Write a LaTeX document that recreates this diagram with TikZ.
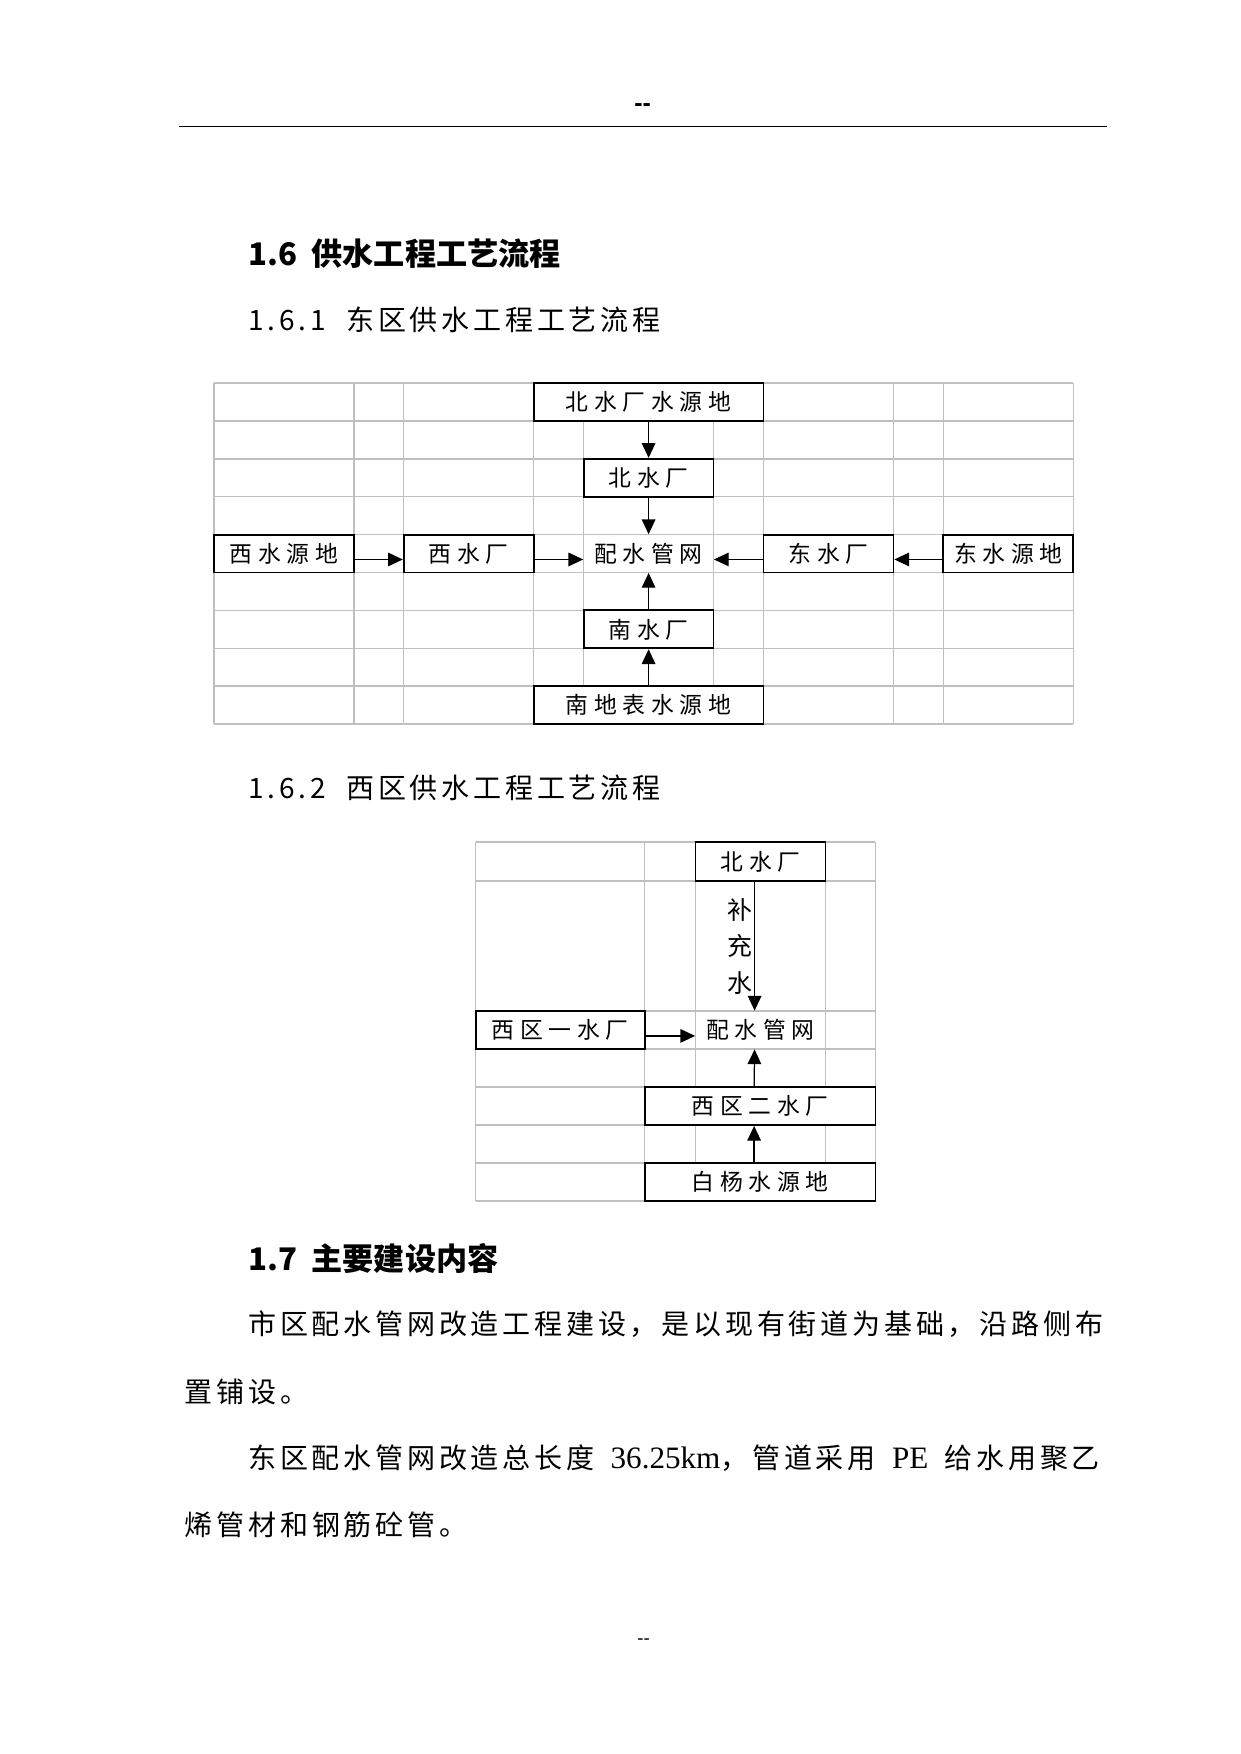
\documentclass[tikz,border=0pt]{standalone}
\usepackage{fontspec}
\setmainfont{Liberation Serif}
\setsansfont{Liberation Sans}
\newfontfamily\cjk[Scale=0.9,LetterSpace=13.5]{Noto Sans CJK SC}
\newfontfamily\hei{Noto Sans CJK SC}
\newfontfamily\cellfont[LetterSpace=25]{Noto Sans CJK SC}
\newcommand{\bodysize}{\fontsize{15pt}{18pt}\selectfont}
\newcommand{\cellsize}{\fontsize{11pt}{13pt}\selectfont}
\usetikzlibrary{arrows.meta}

\begin{document}
\begin{tikzpicture}[x=0.16922mm, y=-0.16933mm,
  gridln/.style={black!25, line width=0.7pt},
  box/.style={rectangle, draw, line width=0.9pt, fill=white, inner sep=0pt,
              minimum width=22mm, minimum height=6.42mm,
              font=\cellfont\cellsize},
  cell/.style={rectangle, inner sep=0pt, minimum width=22mm,
               minimum height=6.42mm, font=\cellfont\cellsize},
  flow/.style={-{Triangle[length=2.5mm, width=2.3mm]}, line width=0.6pt},
  txt/.style={anchor=west, inner sep=0pt, font=\bodysize}
]
\useasboundingbox (0,0) rectangle (1241,1754);
% page header and footer
\node[font=\sffamily\bfseries\fontsize{12pt}{14pt}\selectfont] (hdr)
  at (643,108) {-\kern0pt-};
\draw[line width=0.6pt] (179,126.5) -- (1108,126.5);
\node[font=\sffamily\fontsize{9pt}{11pt}\selectfont] (ftr)
  at (644,1642) {-\kern0pt-};
% headings
\node[txt, font=\hei\bfseries\fontsize{15pt}{18pt}\selectfont] (h16)
  at (248,254) {1.6\hspace{7pt}供水工程工艺流程};
\node[txt] (h161) at (248,320) {\cjk 1.6.1\hspace{10pt}东区供水工程工艺流程};
\node[txt] (h162) at (248,788) {\cjk 1.6.2\hspace{10pt}西区供水工程工艺流程};
\node[txt, font=\hei\bfseries\fontsize{15pt}{18pt}\selectfont] (h17)
  at (248,1258) {1.7\hspace{7pt}主要建设内容};
% east district grid
\foreach \x in {214,354,404,534,584,714,764,894,944,1074}
  \draw[gridln] (\x,383) -- (\x,724.1);
\foreach \i in {0,...,9}
  \draw[gridln] (214,{383+37.9*\i}) -- (1074,{383+37.9*\i});
% east district plants and sources
\node[box, minimum width=38.92mm] (srcN) at (649,401.95) {北水厂水源地};
\node[box] (plantN) at (649,477.75) {北水厂};
\node[cell] (net1) at (649,553.55) {配水管网};
\node[box, minimum width=23.69mm] (srcW) at (284,553.55) {西水源地};
\node[box] (plantW) at (469,553.55) {西水厂};
\node[box] (plantE) at (829,553.55) {东水厂};
\node[box] (srcE) at (1009,553.55) {东水源地};
\node[box] (plantS) at (649,629.35) {南水厂};
\node[box, minimum width=38.92mm] (srcS) at (649,705.15) {南地表水源地};
% east district flows
\draw[flow] (srcN) -- (plantN);
\draw[flow] (plantN) -- (net1);
\draw[flow] ([yshift=-1mm]srcW.east) -- ([yshift=-1mm]plantW.west);
\draw[flow] ([yshift=-1mm]plantW.east) -- ([yshift=-1mm]net1.west);
\draw[flow] ([yshift=-1mm]plantE.west) -- ([yshift=-1mm]net1.east);
\draw[flow] ([yshift=-1mm]srcE.west) -- ([yshift=-1mm]plantE.east);
\draw[flow] (plantS) -- (net1);
\draw[flow] (srcS) -- (plantS);
% west district grid
\foreach \x in {476,645,696,826,876}
  \draw[gridln] (\x,842) -- (\x,1201);
\foreach \y in {842,881,1011,1049,1087,1125,1163,1201}
  \draw[gridln] (476,\y) -- (876,\y);
% west district plants and sources
\node[box, minimum height=6.6mm] (plantN2) at (761,861.5) {北水厂};
\node[box, minimum width=28.6mm] (plant1) at (560.5,1030) {西区一水厂};
\node[cell] (net2) at (761,1030) {配水管网};
\node[box, minimum width=39.09mm] (plant2) at (760.5,1106) {西区二水厂};
\node[box, minimum width=39.09mm] (src2) at (760.5,1182) {白杨水源地};
% west district flows
\draw[flow] ([xshift=-1mm]plantN2.south) -- ([xshift=-1mm]net2.north)
  node[midway, left, inner sep=1pt, align=center,
       font=\hei\fontsize{12pt}{17.5pt}\selectfont] (lblfill) {补\\充\\水};
\draw[flow] ([yshift=-1mm]plant1.east) -- ([yshift=-1mm]net2.west);
\draw[flow] ([xshift=-1mm]plant2.north) -- ([xshift=-1mm]net2.south);
\draw[flow] ([xshift=-1mm]src2.north) -- ([xshift=-1mm]plant2.south);
% body text
\node[txt] (par1a) at (248,1324)
  {\cjk 市区配水管网改造工程建设，是以现有街道为基础，沿路侧布};
\node[txt] (par1b) at (184.6,1392) {\cjk 置铺设。};
\node[txt] (par2a) at (248,1458)
  {\makebox[144.2mm][s]{{\cjk 东区配水管网改造总长度} 36.25km{\cjk ，管道采用} PE {\cjk 给水用聚乙}}};
\node[txt] (par2b) at (184.6,1525) {\cjk 烯管材和钢筋砼管。};
\end{tikzpicture}
\end{document}
